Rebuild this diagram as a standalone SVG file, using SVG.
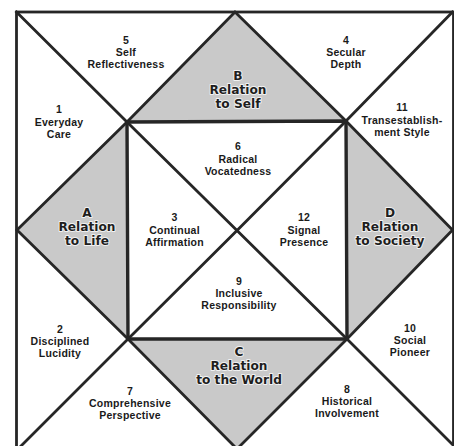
<svg xmlns="http://www.w3.org/2000/svg" width="454" height="446" viewBox="0 0 454 446">
<style>
.bg{fill:#ffffff}
.sh{fill:#c9c9c9;stroke:none}
.ln{fill:none;stroke:#262626;stroke-width:2.8;stroke-linejoin:miter;stroke-linecap:square}
.lab{font-family:"Liberation Sans",Arial,sans-serif;font-weight:700;font-size:10.5px;letter-spacing:0.25px;fill:#1a1a1a;text-anchor:middle}
.ttl{font-family:"DejaVu Sans",sans-serif;font-weight:700;font-size:12.2px;fill:#1e1e1e;text-anchor:middle;stroke:#f2f2f2;stroke-width:1.8;paint-order:stroke;stroke-linejoin:round}
</style>
<rect class="bg" x="0" y="0" width="454" height="446"/>
<g id="shading">
<polygon id="shadeB" class="sh" points="235,12 127,122 346,121"/>
<polygon id="shadeA" class="sh" points="17,230 127,122 128,339"/>
<polygon id="shadeD" class="sh" points="452.5,230 346,121 347,339"/>
<polygon id="shadeC" class="sh" points="237,449 128,339 347,339"/>
</g>
<g id="connectors">
<rect class="ln" x="16.5" y="12" width="437" height="437"/>
<polyline class="ln" points="16.5,12 127,122 237,230.5 347,339 455,447"/>
<polyline class="ln" points="452.5,12 346,121 237,230.5 128,339 18,449"/>
<polygon class="ln" points="235,12 127,122 17,230 128,339 237,449 347,339 452.5,230 346,121"/>
<polygon class="ln" points="127,122 346,121 347,339 128,339" style="stroke-width:3.4"/>
</g>
<g id="n5"><text class="lab" x="126" y="44">5<tspan x="126" dy="12.2">Self</tspan><tspan x="126" dy="12.2">Reflectiveness</tspan></text></g>
<g id="n4"><text class="lab" x="346" y="44">4<tspan x="346" dy="12.2">Secular</tspan><tspan x="346" dy="12.2">Depth</tspan></text></g>
<g id="n1"><text class="lab" x="59" y="113">1<tspan x="59" dy="12.5">Everyday</tspan><tspan x="59" dy="12.5">Care</tspan></text></g>
<g id="n11"><text class="lab" x="402" y="111">11<tspan x="402" dy="12.5">Transestablish-</tspan><tspan x="402" dy="12.5">ment Style</tspan></text></g>
<g id="nB"><text class="ttl" x="238" y="80">B<tspan x="238" dy="14.2">Relation</tspan><tspan x="238" dy="14.2">to Self</tspan></text></g>
<g id="n6"><text class="lab" x="238" y="150">6<tspan x="238" dy="12.5">Radical</tspan><tspan x="238" dy="12.5">Vocatedness</tspan></text></g>
<g id="nA"><text class="ttl" x="87" y="217">A<tspan x="87" dy="14.2">Relation</tspan><tspan x="87" dy="14.2">to Life</tspan></text></g>
<g id="n3"><text class="lab" x="174.5" y="221">3<tspan x="174.5" dy="12.8">Continual</tspan><tspan x="174.5" dy="12.3">Affirmation</tspan></text></g>
<g id="n12"><text class="lab" x="304" y="221">12<tspan x="304" dy="12.8">Signal</tspan><tspan x="304" dy="12.3">Presence</tspan></text></g>
<g id="nD"><text class="ttl" x="390" y="217">D<tspan x="390" dy="14.2">Relation</tspan><tspan x="390" dy="14.2">to Society</tspan></text></g>
<g id="n9"><text class="lab" x="239" y="285">9<tspan x="239" dy="12.2">Inclusive</tspan><tspan x="239" dy="12.2">Responsibility</tspan></text></g>
<g id="n2"><text class="lab" x="60" y="333">2<tspan x="60" dy="12.2">Disciplined</tspan><tspan x="60" dy="12.2">Lucidity</tspan></text></g>
<g id="n10"><text class="lab" x="410" y="331.5">10<tspan x="410" dy="12.2">Social</tspan><tspan x="410" dy="12.2">Pioneer</tspan></text></g>
<g id="nC"><text class="ttl" x="239" y="356">C<tspan x="239" dy="14.2">Relation</tspan><tspan x="239" dy="14.2">to the World</tspan></text></g>
<g id="n7"><text class="lab" x="130" y="394.5">7<tspan x="130" dy="12.2">Comprehensive</tspan><tspan x="130" dy="12.2">Perspective</tspan></text></g>
<g id="n8"><text class="lab" x="347" y="392.5">8<tspan x="347" dy="12.5">Historical</tspan><tspan x="347" dy="12.3">Involvement</tspan></text></g>
</svg>
